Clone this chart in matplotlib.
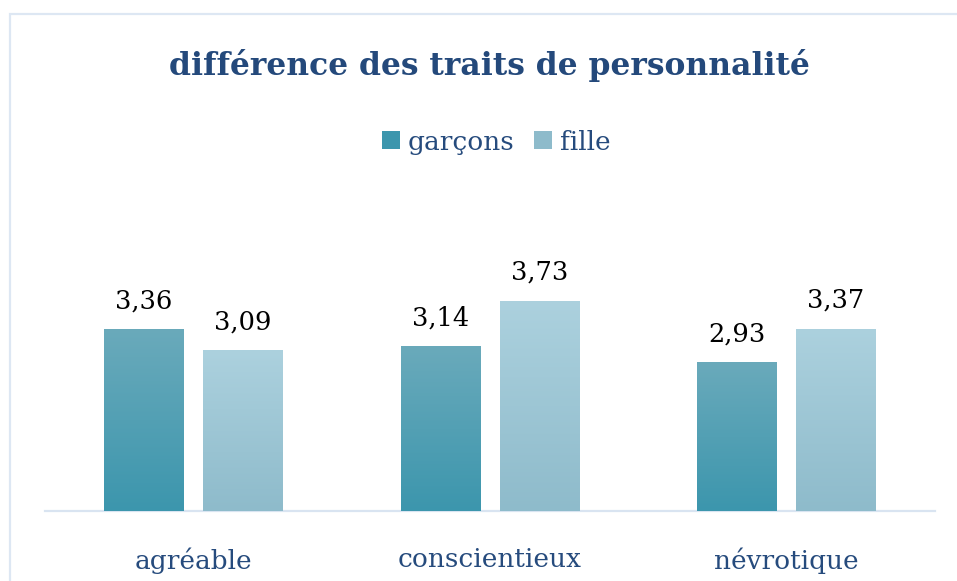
import numpy as np
import matplotlib
matplotlib.use("Agg")
import matplotlib.pyplot as plt
from matplotlib.patches import Rectangle, Patch
import matplotlib.colors as mcolors

# data
categories = ["agréable", "conscientieux", "névrotique"]
series_names = ["garçons", "fille"]
garcons = [3.36, 3.14, 2.93]
fille = [3.09, 3.73, 3.37]
value_labels = [["3,36", "3,14", "2,93"], ["3,09", "3,73", "3,37"]]

# gradient colours (top, bottom) per series
grad = [("#6aaabb", "#3c96ad"), ("#acd1de", "#8ebbcb")]
title_color = "#24497b"
text_blue = "#264b7d"
line_color = "#d9e4f1"

W, H = 957, 581
fig = plt.figure(figsize=(W / 100, H / 100), dpi=100)
plt.rcParams['font.family'] = ['DejaVu Serif']

# chart frame (runs off right and bottom of the picture)
fig.patches.append(Rectangle((9.5 / W, -0.1), 1.2, (H - 13.5) / H + 0.1,
                             transform=fig.transFigure, fill=False,
                             edgecolor="#dde7f3", linewidth=1.6))

ax = fig.add_axes([45 / W, (H - 511) / H, 890 / W, 231 / H])
x = np.arange(len(categories))
bw = 0.269
off = 0.1667

all_vals = [garcons, fille]
for i, vals in enumerate(all_vals):
    bars = ax.bar(x + (2 * i - 1) * off, vals, bw, bottom=0, color=grad[i][1],
                  zorder=2)
    cmap = mcolors.LinearSegmentedColormap.from_list("", [grad[i][1], grad[i][0]])
    g = np.linspace(0, 1, 256).reshape(-1, 1)
    for b, lab in zip(bars, value_labels[i]):
        x0, y1 = b.get_x(), b.get_height()
        im = ax.imshow(g, cmap=cmap, origin="lower", aspect="auto",
                       extent=[x0, x0 + b.get_width(), 1.0, y1], zorder=3)
        im.set_clip_path(b)
        ax.annotate(lab, (x0 + b.get_width() / 2, y1), xytext=(0, 16),
                    textcoords="offset pixels", ha="center", va="bottom",
                    fontsize=18.5, color="black")

ax.set_xlim(-0.5, len(categories) - 0.5)
ax.set_ylim(1.0, 4.0)
ax.set_xticks(x)
ax.set_xticklabels(categories, fontsize=19, color=text_blue)
ax.tick_params(axis="x", length=0, pad=26)
ax.set_yticks([])
for s in ["top", "left", "right"]:
    ax.spines[s].set_visible(False)
ax.spines["bottom"].set_color(line_color)
ax.spines["bottom"].set_linewidth(1.6)
ax.patch.set_alpha(0)

fig.text(489 / W, 1 - 65 / H, "différence des traits de personnalité",
         ha="center", va="center", fontsize=22.6, fontweight="bold",
         color=title_color)

handles = [Patch(facecolor=grad[i][1], edgecolor="none") for i in range(2)]
fig.legend(handles, series_names, loc="center", bbox_to_anchor=(496 / W, 1 - 142 / H),
           ncol=2, frameon=False, fontsize=19, labelcolor=text_blue,
           handlelength=0.68, handleheight=0.68, handletextpad=0.3,
           columnspacing=0.75)

fig.savefig("out.png", dpi=100)
